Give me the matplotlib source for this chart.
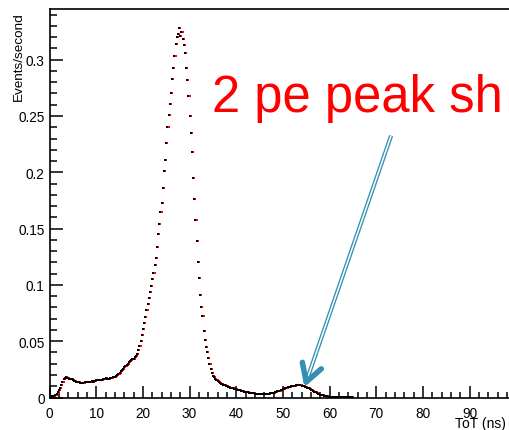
import numpy as np
import matplotlib
matplotlib.use("Agg")
import matplotlib.pyplot as plt
from matplotlib.ticker import MultipleLocator, FuncFormatter
from matplotlib.transforms import offset_copy

plt.rcParams['font.family'] = ['Liberation Sans', 'DejaVu Sans']

# ToT histogram, 0.25 ns bins, rate in events/second (4 values per ns)
rate_low = [
    0.0005, 0.0008, 0.0010, 0.0012,   # 0 ns
    0.0015, 0.0025, 0.0035, 0.0050,
    0.0065, 0.0085, 0.0110, 0.0135,
    0.0160, 0.0175, 0.0180, 0.0177,
    0.0172, 0.0168, 0.0165, 0.0160,
    0.0155, 0.0150, 0.0146, 0.0142,   # 5 ns
    0.0138, 0.0135, 0.0133, 0.0132,
    0.0131, 0.0133, 0.0135, 0.0137,
    0.0139, 0.0141, 0.0140, 0.0141,
    0.0143, 0.0142, 0.0145, 0.0148,
    0.0151, 0.0153, 0.0152, 0.0154,   # 10 ns
    0.0156, 0.0158, 0.0163, 0.0167,
    0.0170, 0.0166, 0.0163, 0.0167,
    0.0172, 0.0176, 0.0180, 0.0183,
    0.0186, 0.0190, 0.0197, 0.0207,
    0.0220, 0.0233, 0.0245, 0.0257,   # 15 ns
    0.0268, 0.0278, 0.0289, 0.0300,
    0.0312, 0.0322, 0.0330, 0.0338,
]
rate_peak = [
    0.0346, 0.0358, 0.0372, 0.0390,   # 18 ns
    0.0420, 0.0455, 0.0500, 0.0555,
    0.0610, 0.0660, 0.0715, 0.0775,   # 20 ns
    0.0830, 0.0885, 0.0935, 0.0990,
    0.1050, 0.1110, 0.1180, 0.1240,
    0.1340, 0.1450, 0.1540, 0.1650,
    0.1730, 0.1860, 0.2010, 0.2110,
    0.2260, 0.2400, 0.2510, 0.2610,   # 25 ns
    0.2700, 0.2830, 0.2930, 0.3030,
    0.3140, 0.3200, 0.3230, 0.3280,
    0.3210, 0.3250, 0.3180, 0.3130,
    0.3060, 0.2930, 0.2820, 0.2680,
    0.2500, 0.2350, 0.2180, 0.1950,   # 30 ns
    0.1760, 0.1580, 0.1390, 0.1200,
    0.1060, 0.0910, 0.0800, 0.0720,
    0.0590, 0.0510, 0.0450, 0.0400,
    0.0350, 0.0295, 0.0250, 0.0215,
    0.0195, 0.0178, 0.0165, 0.0155,   # 35 ns
]
rate_tail = [
    0.0145, 0.0138, 0.0130, 0.0124,   # 36 ns
    0.0118, 0.0113, 0.0110, 0.0106,
    0.0100, 0.0096, 0.0092, 0.0088,
    0.0085, 0.0082, 0.0079, 0.0076,
    0.0072, 0.0069, 0.0066, 0.0063,   # 40 ns
    0.0060, 0.0057, 0.0055, 0.0052,
    0.0050, 0.0048, 0.0046, 0.0044,
    0.0042, 0.0040, 0.0038, 0.0036,
    0.0035, 0.0034, 0.0033, 0.0032,
    0.0031, 0.0030, 0.0030, 0.0030,   # 45 ns
    0.0030, 0.0031, 0.0032, 0.0033,
    0.0035, 0.0037, 0.0039, 0.0041,
    0.0044, 0.0047, 0.0050, 0.0054,
    0.0057, 0.0061, 0.0065, 0.0069,
    0.0073, 0.0077, 0.0081, 0.0085,   # 50 ns
    0.0089, 0.0092, 0.0096, 0.0099,
    0.0102, 0.0104, 0.0106, 0.0107,
    0.0108, 0.0108, 0.0108, 0.0107,
    0.0105, 0.0102, 0.0099, 0.0095,
    0.0091, 0.0086, 0.0081, 0.0075,   # 55 ns
    0.0069, 0.0063, 0.0057, 0.0051,
    0.0045, 0.0040, 0.0035, 0.0030,
    0.0026, 0.0022, 0.0019, 0.0016,
    0.0013, 0.0011, 0.0009, 0.0008,
    0.0007, 0.0006, 0.0005, 0.0005,   # 60 ns
    0.0004, 0.0003, 0.0003, 0.0003,
    0.0002, 0.0002, 0.0002, 0.0002,
    0.0002, 0.0001, 0.0001, 0.0001,
    0.0001, 0.0001, 0.0001, 0.0001,
]
rate = np.array(rate_low + rate_peak + rate_tail)
tot = np.arange(len(rate)) * 0.25

x_range = (0, 98.9)
y_range = (0, 0.345)
annotation = "2 pe peak sh"
arrow_tail = (73.2, 0.2325)
arrow_tip = (55.0, 0.0138)
arrow_color = "#3490b0"

fig = plt.figure(figsize=(5.09, 4.31), dpi=100)
ax = fig.add_axes([0.0973, 0.0754, 0.9067, 0.9014])
ax.set_xlim(*x_range)
ax.set_ylim(*y_range)

# red copy sits one pixel right of the black markers
red_tr = offset_copy(ax.transData, fig=fig, x=1.2, y=0.0, units='dots')
ax.plot(tot, rate, ls='none', marker='s', ms=1.8, mew=0, color='red',
        transform=red_tr)
ax.plot(tot, rate, ls='none', marker='s', ms=1.7, mew=0, color='black')

# axes styling, ROOT-like
for s in ax.spines.values():
    s.set_linewidth(1.2)
ax.xaxis.set_major_locator(MultipleLocator(10))
ax.xaxis.set_minor_locator(MultipleLocator(2))
ax.yaxis.set_major_locator(MultipleLocator(0.05))
ax.yaxis.set_minor_locator(MultipleLocator(0.01))
ax.yaxis.set_major_formatter(FuncFormatter(lambda v, p: "%g" % round(v, 3)))
ax.tick_params(which='both', direction='in', top=False, right=False,
               width=1.1, labelsize=9.8)
ax.tick_params(axis='x', which='major', length=9, pad=6.3)
ax.tick_params(axis='x', which='minor', length=4.5)
ax.tick_params(axis='y', which='major', length=9.5, pad=3.5)
ax.tick_params(axis='y', which='minor', length=5)

ax.set_xlabel("ToT (ns)", fontsize=10.0, ha='left', va='top')
ax.xaxis.set_label_coords(0.878, -0.047)
ax.set_ylabel("Events/second", fontsize=9.7, loc='top')
ax.yaxis.set_label_coords(-0.054, 0.995)

fig.text(212.5 / 509, 1 - 112.0 / 431, annotation, color='red',
         fontsize=36.5, ha='left', va='baseline')

# double-line arrow with an open head
p_tail = ax.transData.transform(arrow_tail)
p_tip = ax.transData.transform(arrow_tip)
d = (p_tail - p_tip) / np.hypot(*(p_tail - p_tip))
inv = ax.transData.inverted()
body_end = inv.transform(p_tip + d * 6)
ax.plot([arrow_tail[0], body_end[0]], [arrow_tail[1], body_end[1]],
        color=arrow_color, lw=3.0, solid_capstyle='butt', clip_on=False)
ax.plot([arrow_tail[0], body_end[0]], [arrow_tail[1], body_end[1]],
        color='white', lw=1.1, solid_capstyle='butt', clip_on=False)
for ang in (np.radians(30), np.radians(-30)):
    rot = np.array([[np.cos(ang), -np.sin(ang)], [np.sin(ang), np.cos(ang)]])
    arm = inv.transform(p_tip + rot @ d * 20)
    ax.plot([arrow_tip[0], arm[0]], [arrow_tip[1], arm[1]], color=arrow_color,
            lw=4.0, solid_capstyle='round', clip_on=False)

fig.savefig("out.png", dpi=100)
